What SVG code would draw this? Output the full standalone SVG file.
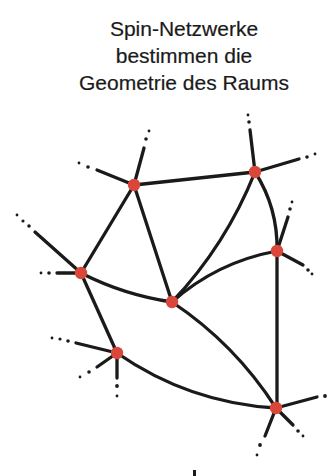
<svg xmlns="http://www.w3.org/2000/svg" width="329" height="476" viewBox="0 0 329 476">
<style>
.t{font-family:"Liberation Sans",Arial,sans-serif;font-size:21px;fill:#1a1a1a;text-anchor:middle;stroke:#1a1a1a;stroke-width:0.2}
.e{fill:none;stroke:#1a1a1a;stroke-width:3.3;stroke-linecap:round}
.d{fill:#1a1a1a}
.n{fill:#d9473a}
</style>
<rect width="329" height="476" fill="#fff"/>
<g id="title">
<text class="t" x="184" y="36">Spin-Netzwerke</text>
<text class="t" x="184" y="63">bestimmen die</text>
<text class="t" x="184" y="90">Geometrie des Raums</text>
</g>
<g id="connectors">
<path class="e" d="M134,185 L255,172"/>
<path class="e" d="M134,185 L81,273"/>
<path class="e" d="M134,185 L172,302"/>
<path class="e" d="M255,172 Q226,245 172,302"/>
<path class="e" d="M255,172 Q278,208 277,251"/>
<path class="e" d="M277,251 Q217,262 172,302"/>
<path class="e" d="M277,251 L277,408"/>
<path class="e" d="M81,273 Q124,295 172,302"/>
<path class="e" d="M81,273 L117,353"/>
<path class="e" d="M172,302 Q235,344 276,408"/>
<path class="e" d="M117,353 Q189,403 276,408"/>
<path class="e" d="M134,185 L144,148"/>
<path class="e" d="M134,185 L97,170"/>
<path class="e" d="M81,273 L35,232"/>
<path class="e" d="M81,273 L57,273"/>
<path class="e" d="M255,172 L250,130"/>
<path class="e" d="M255,172 L299,159"/>
<path class="e" d="M277,251 L288,217"/>
<path class="e" d="M277,251 L303,265"/>
<path class="e" d="M117,353 L76,343"/>
<path class="e" d="M117,353 L97,367"/>
<path class="e" d="M117,353 L117,378"/>
<path class="e" d="M276,408 L317,397"/>
<path class="e" d="M276,408 L265,436"/>
<path class="e" d="M276,408 L293,425"/>
</g>
<g id="dots">
<circle class="d" cx="146" cy="139" r="1.8"/><circle class="d" cx="149" cy="131" r="1.4"/>
<circle class="d" cx="88" cy="167" r="1.8"/><circle class="d" cx="79" cy="163" r="1.4"/>
<circle class="d" cx="29" cy="226" r="1.8"/><circle class="d" cx="23" cy="221" r="1.6"/><circle class="d" cx="17" cy="215" r="1.4"/>
<circle class="d" cx="49" cy="273" r="1.8"/><circle class="d" cx="41" cy="273" r="1.4"/>
<circle class="d" cx="249" cy="122" r="1.8"/><circle class="d" cx="248" cy="115" r="1.4"/>
<circle class="d" cx="307" cy="157" r="1.8"/><circle class="d" cx="315" cy="154" r="1.4"/>
<circle class="d" cx="290" cy="209" r="1.8"/><circle class="d" cx="292" cy="202" r="1.4"/>
<circle class="d" cx="308" cy="270" r="1.8"/><circle class="d" cx="312" cy="274" r="1.4"/>
<circle class="d" cx="68" cy="341" r="1.8"/><circle class="d" cx="60" cy="339" r="1.6"/><circle class="d" cx="52" cy="338" r="1.4"/>
<circle class="d" cx="89" cy="372" r="1.8"/><circle class="d" cx="80" cy="377" r="1.4"/>
<circle class="d" cx="117" cy="386" r="1.9"/><circle class="d" cx="117" cy="396" r="1.4"/>
<circle class="d" cx="325" cy="396" r="1.9"/>
<circle class="d" cx="260" cy="445" r="1.9"/><circle class="d" cx="257" cy="455" r="1.4"/>
<circle class="d" cx="298" cy="431" r="1.8"/><circle class="d" cx="303" cy="436" r="1.4"/>
<rect class="d" x="193" y="470" width="3" height="6"/>
</g>
<g id="nA"><circle class="n" cx="134" cy="185" r="6.2"/></g>
<g id="nB"><circle class="n" cx="255" cy="172" r="6.2"/></g>
<g id="nC"><circle class="n" cx="277" cy="251" r="6.2"/></g>
<g id="nD"><circle class="n" cx="81" cy="273" r="6.2"/></g>
<g id="nE"><circle class="n" cx="172" cy="302" r="6.2"/></g>
<g id="nF"><circle class="n" cx="117" cy="353" r="6.2"/></g>
<g id="nG"><circle class="n" cx="276" cy="408" r="6.2"/></g>
</svg>
